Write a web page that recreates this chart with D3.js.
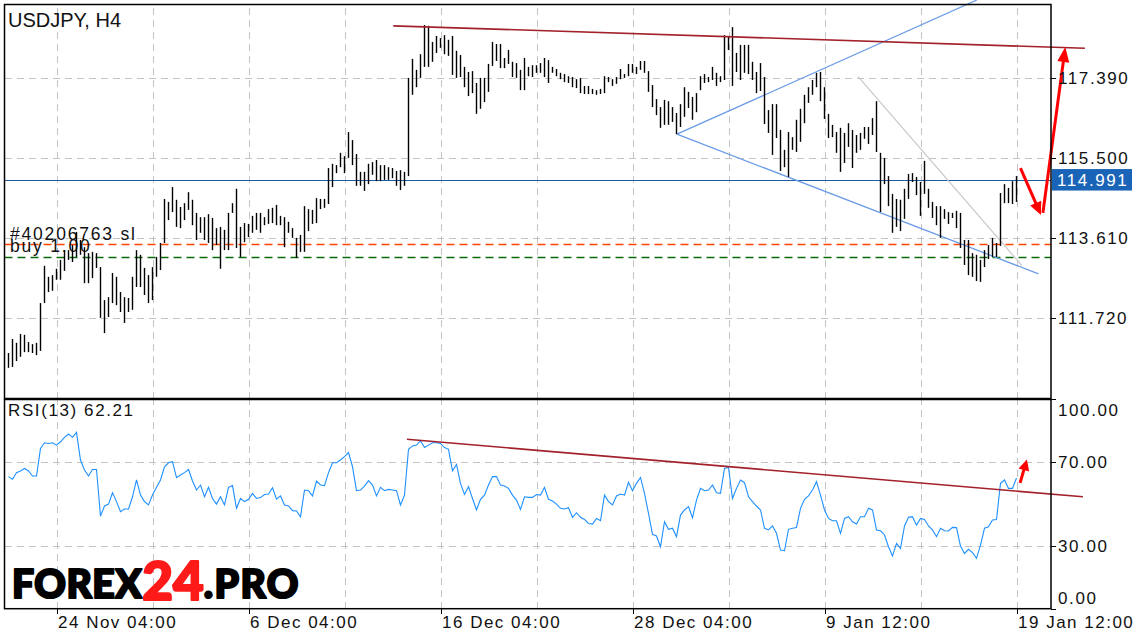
<!DOCTYPE html>
<html>
<head>
<meta charset="utf-8">
<script src="https://cdn.jsdelivr.net/npm/d3@7"></script>
<style>
  body { margin: 0; background: #fff; }
  svg text { font-family: "Liberation Sans", Arial, sans-serif; fill: #111; }
  .grid line { stroke: #c4c4c4; stroke-dasharray: 7,5; shape-rendering: crispEdges; }
  .grid path { display: none; }
  .axis path { display: none; }
  .axis line { stroke: #000; shape-rendering: crispEdges; }
  .axis text { font-size: 17px; letter-spacing: 1.6px; }
</style>
</head>
<body>
<div id="chart"></div>
<script>
// USDJPY H4 bars (bar 0 = oldest)
let highs = [
  110.90,111.23,111.14,111.35,111.33,111.16,111.11,111.14,112.08,112.96,
  112.70,112.74,112.89,113.10,113.33,113.33,113.45,113.76,113.57,113.40,
  113.26,113.29,113.26,112.93,112.15,112.22,112.79,112.70,112.34,112.22,
  112.20,112.70,113.33,113.22,112.91,112.74,112.93,113.17,113.50,114.54,
  114.47,114.82,114.52,114.35,114.44,114.70,114.52,114.21,114.11,114.11,
  114.18,114.09,113.85,113.88,113.81,114.21,114.44,114.78,113.88,113.97,
  113.95,114.14,114.21,114.21,114.11,114.30,114.33,114.40,114.14,114.11,
  114.00,113.85,113.62,113.69,114.37,114.30,114.28,114.56,114.54,114.54,
  115.27,115.37,115.34,115.63,115.55,116.12,115.93,115.60,115.18,115.18,
  115.37,115.41,115.46,115.34,115.34,115.29,115.27,115.20,115.22,115.18,
  117.40,117.85,117.59,117.96,118.65,118.63,118.25,118.39,118.34,118.41,
  118.30,118.39,118.04,117.94,117.66,117.54,117.56,117.28,117.40,117.40,
  117.73,118.25,118.20,118.20,117.87,118.06,117.78,117.75,117.59,117.87,
  117.66,117.70,117.70,117.75,117.87,117.82,117.66,117.61,117.52,117.49,
  117.44,117.42,117.37,117.40,117.21,117.21,117.14,117.11,117.14,117.44,
  117.42,117.37,117.42,117.61,117.49,117.73,117.73,117.66,117.80,117.80,
  117.56,117.23,116.90,116.71,116.88,116.85,116.71,116.57,116.78,117.18,
  117.07,116.95,117.04,117.44,117.49,117.42,117.66,117.52,117.44,118.41,
  118.37,118.60,117.99,118.18,118.18,118.18,117.78,117.54,117.75,117.42,
  116.64,116.78,116.78,116.17,115.70,116.12,116.00,116.41,116.67,117.00,
  117.18,117.35,117.52,117.54,117.18,116.55,116.29,116.12,116.22,116.10,
  116.33,116.17,116.05,116.10,116.24,116.24,116.45,116.85,115.63,115.51,
  115.08,114.66,114.54,114.52,114.78,115.13,115.15,115.06,114.94,115.44,
  114.78,114.47,114.37,114.37,114.30,114.23,114.21,114.26,114.21,113.57,
  113.57,113.26,113.22,113.10,113.33,113.45,113.62,113.50,114.68,114.89,
  114.80,114.96,115.08
];
let lows = [
  110.55,110.57,110.71,110.81,110.92,110.92,110.90,110.85,110.95,112.08,
  112.34,112.37,112.63,112.63,112.84,113.10,113.05,113.17,113.22,112.55,
  112.55,112.67,112.91,111.73,111.37,111.75,112.08,112.03,111.87,111.61,
  111.87,111.92,112.46,112.46,112.27,112.08,112.15,112.70,112.86,113.50,
  114.04,114.23,113.88,113.85,114.04,114.28,113.92,113.57,113.74,113.57,
  113.50,113.33,113.45,112.89,113.33,113.33,114.21,113.38,113.17,113.52,
  113.64,113.74,113.81,113.74,113.92,113.95,113.97,113.92,113.92,113.40,
  113.74,113.62,113.15,113.29,113.29,113.78,113.95,113.97,114.30,114.33,
  114.42,114.82,115.15,115.29,115.15,115.51,115.34,114.85,114.85,114.73,
  114.89,115.11,114.96,114.96,114.99,114.99,115.03,114.85,114.75,114.85,
  115.08,117.00,117.18,117.40,117.66,117.66,117.78,117.99,118.11,117.96,
  117.92,117.47,117.40,117.42,117.18,116.97,117.04,116.55,116.67,116.83,
  117.07,117.68,117.80,117.63,117.63,117.73,117.42,117.40,117.11,117.11,
  117.44,117.42,117.52,117.52,117.42,117.28,117.52,117.44,117.37,117.30,
  117.28,117.18,117.16,117.04,117.02,117.02,117.02,117.00,117.02,117.04,
  117.30,117.21,117.26,117.37,117.40,117.44,117.52,117.49,117.59,117.52,
  117.07,116.71,116.52,116.22,116.29,116.29,116.36,116.07,116.24,116.48,
  116.69,116.41,116.59,117.11,117.28,117.30,117.35,117.21,117.30,117.35,
  118.06,117.21,117.54,117.35,117.52,117.49,117.35,117.04,117.09,116.31,
  116.10,115.58,115.98,115.20,115.29,115.06,115.70,115.65,115.89,116.33,
  116.81,117.00,117.18,116.85,116.43,115.98,116.00,115.63,115.18,115.39,
  115.77,115.27,115.63,115.70,115.96,115.84,116.05,115.65,114.23,114.89,
  114.37,113.74,113.88,113.78,114.07,114.54,114.94,114.63,114.14,114.66,
  114.33,114.09,113.92,113.62,114.07,113.95,114.09,113.85,113.38,112.98,
  112.74,112.70,112.60,112.58,112.93,113.12,113.17,113.17,113.43,114.44,
  114.44,114.42,114.47
];
// RSI(13), one value per bar
let rsi = [
  62.9,61.6,64.8,65.6,66.8,65.6,63.2,63.2,76.3,79.0,
  78.7,79.0,77.9,79.5,81.6,83.2,81.6,84.0,70.8,66.0,
  63.2,66.3,66.3,44.1,48.9,49.8,55.2,51.0,46.2,47.5,
  47.5,53.3,61.3,54.1,51.0,49.4,54.1,57.8,61.3,67.6,
  69.5,70.0,62.4,63.7,64.8,66.3,60.8,56.5,58.9,53.3,
  57.8,52.5,49.8,53.3,49.4,57.8,58.6,47.8,52.5,51.0,
  52.1,54.9,52.5,52.9,54.4,54.6,57.6,52.2,53.7,49.4,
  48.9,46.7,46.5,43.8,56.5,56.2,53.7,60.8,58.9,58.6,
  64.8,69.5,69.5,70.8,72.4,74.3,67.6,56.2,56.5,58.4,
  61.0,58.9,53.7,57.8,56.2,56.8,56.5,56.2,49.4,54.1,
  75.9,77.5,77.9,80.0,76.8,77.9,79.0,79.0,78.7,76.7,
  75.9,65.7,68.7,59.7,54.4,58.1,52.5,47.0,52.1,54.1,
  58.9,62.9,62.9,58.9,58.4,57.3,54.1,51.7,47.3,53.3,
  53.0,53.0,54.4,54.1,57.8,52.1,51.3,49.8,47.8,47.5,
  48.1,43.5,45.7,43.5,42.5,40.6,40.3,43.0,41.9,54.1,
  51.0,49.4,53.7,54.6,54.1,60.2,56.2,59.7,62.5,54.9,
  45.4,35.4,34.6,29.5,41.4,37.8,38.3,34.3,44.6,47.0,
  48.6,43.3,51.7,57.3,56.2,56.5,58.9,55.2,54.9,66.8,
  67.3,52.5,57.3,61.3,60.0,53.3,51.0,48.9,47.0,38.3,
  37.5,39.4,35.9,27.9,27.6,37.8,38.3,38.7,47.8,52.1,
  53.7,56.5,60.5,54.1,47.0,43.0,41.9,41.9,35.9,43.0,
  43.8,41.4,40.3,43.8,43.8,47.8,47.0,37.5,37.1,35.1,
  29.5,25.1,31.1,28.7,39.4,43.5,43.8,39.8,43.0,42.5,
  39.4,37.5,34.3,38.3,37.1,37.0,38.7,38.6,29.8,26.3,
  28.3,26.7,24.0,30.3,38.3,39.0,42.2,42.5,59.7,61.3,
  57.3,57.3,62.21
];

let lastPrice = 114.991;
let slPrice = 113.48;
let openPrice = 113.16;

let priceTicks = [117.39, 115.5, 113.61, 111.72];
let rsiTicks = [100, 70, 30, 0];
let rsiGrid = [70, 30];
let gridBars = [12, 36, 60, 84, 108, 132, 156, 180, 204, 228, 252];
let timeBars = [12, 60, 108, 156, 204, 252];
let timeLabels = ["24 Nov 04:00", "6 Dec 04:00", "16 Dec 04:00", "28 Dec 04:00", "9 Jan 12:00", "19 Jan 12:00"];

// drawn objects: [bar, value] pairs
let redTrend = [[96.2, 118.63], [269.1, 118.10]];
let blueUpper = [[167.1, 116.07], [242.1, 119.24]];
let blueLower = [[167.1, 116.07], [257.5, 112.77]];
let grayLine = [[212.4, 117.43], [253.4, 112.96]];
let rsiTrend = [[99.6, 80.7], [268.6, 53.3]];
let arrowDown = [[253.0, 115.27], [258.1, 114.16]];
let arrowUp = [[258.6, 114.21], [264.2, 118.13]];
let rsiArrow = [[252.9, 59.9], [254.6, 71.1]];

// set the dimensions of the panes
let width = 1136, height = 640;
let pane = { left: 4.5, right: 1051, top: 4.5, mid: 398.5, rsiTop: 399.5, bottom: 608.7 };

let svg = d3.select("#chart").append("svg")
  .attr("width", width)
  .attr("height", height);

let x = d3.scaleLinear().domain([0, 252]).range([8.5, 1016.5]);
let y = d3.scaleLinear().domain([109.825, 119.134]).range([pane.mid, pane.top]);
let yr = d3.scaleLinear().domain([0, 100]).range([608.7, 398.7]);

// vertical gridlines, both panes
[[pane.top, pane.mid], [pane.rsiTop, pane.bottom]].forEach(function (r) {
  svg.append("g")
    .attr("class", "grid")
    .attr("transform", "translate(0," + r[1] + ")")
    .call(d3.axisBottom(x).tickValues(gridBars).tickSize(-(r[1] - r[0])).tickFormat(""));
});

// horizontal gridlines
svg.append("g")
  .attr("class", "grid")
  .attr("transform", "translate(" + pane.left + ",0)")
  .call(d3.axisLeft(y).tickValues(priceTicks).tickSize(-(pane.right - pane.left)).tickFormat(""));
svg.append("g")
  .attr("class", "grid")
  .attr("transform", "translate(" + pane.left + ",0)")
  .call(d3.axisLeft(yr).tickValues(rsiGrid).tickSize(-(pane.right - pane.left)).tickFormat(""));

// order lines
svg.append("line")
  .attr("x1", pane.left).attr("x2", pane.right)
  .attr("y1", Math.round(y(slPrice)) + 0.5).attr("y2", Math.round(y(slPrice)) + 0.5)
  .attr("stroke", "#ff4500").attr("stroke-width", 1.3).attr("stroke-dasharray", "8,5");
svg.append("line")
  .attr("x1", pane.left).attr("x2", pane.right)
  .attr("y1", Math.round(y(openPrice)) + 0.5).attr("y2", Math.round(y(openPrice)) + 0.5)
  .attr("stroke", "#0b6b0b").attr("stroke-width", 1.3).attr("stroke-dasharray", "8,5");

// last price line
svg.append("line")
  .attr("x1", pane.left).attr("x2", pane.right)
  .attr("y1", Math.round(y(lastPrice)) + 0.5).attr("y2", Math.round(y(lastPrice)) + 0.5)
  .attr("stroke", "#1c5ba3").attr("stroke-width", 1);

// order labels
svg.append("text").attr("x", 10).attr("y", 240)
  .style("font-size", "17.5px").style("letter-spacing", "1.8px")
  .text("#40206763 sl");
svg.append("text").attr("x", 10).attr("y", 252)
  .style("font-size", "17.5px").style("letter-spacing", "1.8px")
  .text("buy 1.00");

// trend lines
let line = d3.line().x(d => x(d[0])).y(d => y(d[1]));
let rline = d3.line().x(d => x(d[0])).y(d => yr(d[1]));

svg.append("path").attr("d", line(grayLine))
  .attr("fill", "none").attr("stroke", "#c8c8c8").attr("stroke-width", 1.2);
svg.append("path").attr("d", line(blueUpper))
  .attr("fill", "none").attr("stroke", "#6a9be6").attr("stroke-width", 1.3);
svg.append("path").attr("d", line(blueLower))
  .attr("fill", "none").attr("stroke", "#6a9be6").attr("stroke-width", 1.3);

// HL bars
svg.append("g").selectAll("line")
  .data(highs)
  .join("line")
  .attr("x1", (d, i) => x(i)).attr("x2", (d, i) => x(i))
  .attr("y1", d => y(d))
  .attr("y2", (d, i) => y(lows[i]))
  .attr("stroke", "#000")
  .attr("stroke-width", 1.4);

svg.append("path").attr("d", line(redTrend))
  .attr("fill", "none").attr("stroke", "#a3212b").attr("stroke-width", 1.6);

// RSI line
svg.append("path")
  .datum(rsi)
  .attr("d", d3.line().x((d, i) => x(i)).y(d => yr(d)))
  .attr("fill", "none")
  .attr("stroke", "#1e90ff")
  .attr("stroke-width", 1.1);

svg.append("path").attr("d", rline(rsiTrend))
  .attr("fill", "none").attr("stroke", "#a3212b").attr("stroke-width", 1.6);

// red arrows
function arrow(pts, sy, w, head, half) {
  let x0 = x(pts[0][0]), y0 = sy(pts[0][1]);
  let x1 = x(pts[1][0]), y1 = sy(pts[1][1]);
  let dx = x1 - x0, dy = y1 - y0, len = Math.sqrt(dx * dx + dy * dy);
  let ux = dx / len, uy = dy / len;
  let bx = x1 - ux * head, by = y1 - uy * head;
  svg.append("line")
    .attr("x1", x0).attr("y1", y0).attr("x2", bx + ux * 2).attr("y2", by + uy * 2)
    .attr("stroke", "#ff0000").attr("stroke-width", w);
  svg.append("path")
    .attr("d", "M" + x1 + "," + y1 +
      "L" + (bx - uy * half) + "," + (by + ux * half) +
      "L" + (bx + uy * half) + "," + (by - ux * half) + "Z")
    .attr("fill", "#ff0000");
}
arrow(arrowDown, y, 3, 13, 6);
arrow(arrowUp, y, 3, 15, 6);
arrow(rsiArrow, yr, 3, 11, 5.5);

// pane borders
svg.append("rect")
  .attr("x", pane.left).attr("y", pane.top)
  .attr("width", pane.right - pane.left).attr("height", pane.mid - pane.top)
  .attr("fill", "none").attr("stroke", "#000").attr("stroke-width", 1.5);
svg.append("rect")
  .attr("x", pane.left).attr("y", pane.rsiTop)
  .attr("width", pane.right - pane.left).attr("height", pane.bottom - pane.rsiTop)
  .attr("fill", "none").attr("stroke", "#000").attr("stroke-width", 1.5);

// price axis
svg.append("g")
  .attr("class", "axis")
  .attr("transform", "translate(" + pane.right + ",0)")
  .call(d3.axisRight(y).tickValues(priceTicks).tickSize(5).tickPadding(2).tickFormat(d3.format(".3f")));

// last price box
svg.append("rect")
  .attr("x", 1052).attr("y", y(lastPrice) - 10.8)
  .attr("width", 80).attr("height", 21.5)
  .attr("fill", "#1a64b8");
svg.append("text")
  .attr("x", 1057).attr("y", y(lastPrice) + 6)
  .style("font-size", "17px").style("letter-spacing", "1.6px").style("fill", "#fff")
  .text(d3.format(".3f")(lastPrice));

// rsi axis
let rAxis = svg.append("g")
  .attr("class", "axis")
  .attr("transform", "translate(" + pane.right + ",0)")
  .call(d3.axisRight(yr).tickValues(rsiTicks).tickSize(5).tickPadding(2).tickFormat(d3.format(".2f")));
rAxis.selectAll(".tick text")
  .attr("y", d => d === 100 ? 11 : d === 0 ? -10.5 : 0);

// time axis
svg.append("g")
  .attr("class", "axis")
  .attr("transform", "translate(0," + pane.bottom + ")")
  .call(d3.axisBottom(x).tickValues(timeBars).tickSize(5).tickPadding(2)
    .tickFormat((d, i) => timeLabels[i]))
  .selectAll("text")
  .attr("text-anchor", "start")
  .style("letter-spacing", "1.5px")
  .attr("x", 1);

// titles
svg.append("text").attr("x", 8).attr("y", 27)
  .style("font-size", "20px")
  .text("USDJPY, H4");
svg.append("text").attr("x", 8).attr("y", 416)
  .style("font-size", "17px").style("letter-spacing", "1.6px")
  .text("RSI(13) " + d3.format(".2f")(rsi[rsi.length - 1]));

// logo
let logo = svg.append("text")
  .attr("x", 12).attr("y", 598)
  .style("font-family", "Lato, Inter, Roboto, sans-serif")
  .style("font-weight", 900)
  .style("stroke-width", 2.2)
  .style("stroke-linejoin", "round");
logo.append("tspan").style("font-size", "39px").style("fill", "#000").style("stroke", "#000")
  .style("letter-spacing", "0.5px").text("FOREX");
logo.append("tspan").style("font-size", "53px").style("fill", "#ff1a1a").style("stroke", "#ff1a1a")
  .attr("dy", 2).text("24");
logo.append("tspan").style("font-size", "39px").style("fill", "#000").style("stroke", "#000")
  .style("letter-spacing", "1.5px").attr("dy", -2).text(".PRO");
</script>
</body>
</html>
